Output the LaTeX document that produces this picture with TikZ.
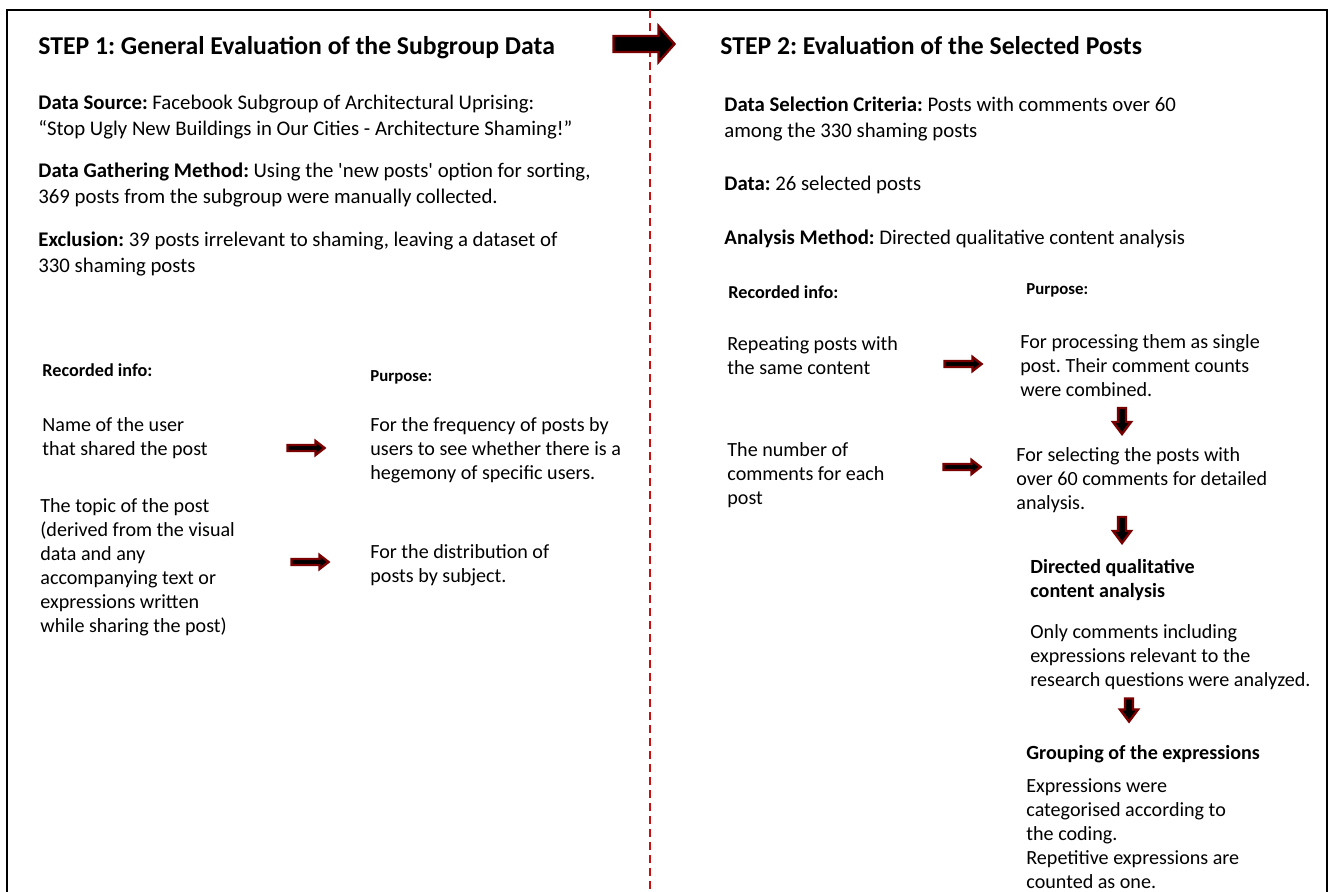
\documentclass[tikz,border=0pt]{standalone}
\usepackage{fontspec}
\setmainfont{Carlito}
\definecolor{arrowred}{RGB}{120,0,0}
\definecolor{dashred}{RGB}{200,16,16}
\tikzset{>=latex}
\tikzset{
  heading/.style={anchor=base west,inner sep=0pt,font=\fontsize{12.85}{15}\selectfont\bfseries},
  body/.style={anchor=north west,inner sep=0pt,align=left,font=\fontsize{10.05}{12}\selectfont,execute at begin node={\frenchspacing\rule{0pt}{8.5pt}}},
  bodyloose/.style={body,font=\fontsize{10.4}{13}\selectfont},
  subhead/.style={body,font=\fontsize{10.05}{12}\selectfont\bfseries},
  infohead/.style={body,font=\fontsize{9.1}{11}\selectfont\bfseries},
  every pic/.style={line width=1.2pt},
  % block arrow pointing right: length/shaft half/head half/head length
  pics/blockarrow/.style args={#1/#2/#3/#4}{code={
    \filldraw[draw=arrowred,fill=black,line join=miter]
      (-#1/2,-#2) -- (#1/2-#4,-#2) -- (#1/2-#4,-#3) -- (#1/2,0)
      -- (#1/2-#4,#3) -- (#1/2-#4,#2) -- (-#1/2,#2) -- cycle;
  }}
}

\begin{document}
\begin{tikzpicture}[x=0.5pt,y=-0.5pt]
  \useasboundingbox (0,0) rectangle (1332,892);

  % Frame and divider
  \draw[line width=1.2pt] (7,892) -- (7,10) -- (1327,10) -- (1327,892);
  \draw[dashred,line width=1pt,dash pattern=on 4pt off 2.5pt] (650,10) -- (650,892);
  \pic[line width=2pt] (next) at (644,44) {blockarrow=61/8/18/16};

  % Step 1
  \node[heading] (head1) at (38,55) {\frenchspacing STEP 1: General Evaluation of the Subgroup Data};
  \node[bodyloose] (src) at (38,95) {\textbf{Data Source:} Facebook Subgroup of Architectural Uprising:\\“Stop Ugly New Buildings in Our Cities - Architecture Shaming!”};
  \node[bodyloose] (gather) at (38,163) {\textbf{Data Gathering Method:} Using the \textquotesingle new posts\textquotesingle{} option for sorting,\\369 posts from the subgroup were manually collected.};
  \node[bodyloose] (excl) at (38,232) {\textbf{Exclusion:} 39 posts irrelevant to shaming, leaving a dataset of\\330 shaming posts};

  \node[infohead] (rec1) at (42,359) {Recorded info:};
  \node[infohead,font=\fontsize{8.4}{10}\selectfont\bfseries] (purp1) at (370,364) {Purpose:};
  \node[body] (user) at (42,417) {Name of the user\\that shared the post};
  \node[body] (userpurp) at (370,417) {For the frequency of posts by\\users to see whether there is a\\hegemony of specific users.};
  \node[body] (topic) at (40,498) {The topic of the post\\(derived from the visual\\data and any\\accompanying text or\\expressions written\\while sharing the post)};
  \node[body] (topicpurp) at (370,544) {For the distribution of\\posts by subject.};
  \pic (a1) at (306,448) {blockarrow=37/3/7/9};
  \pic (a2) at (310,562) {blockarrow=37/3/7/9};

  % Step 2
  \node[heading] (head2) at (720,55) {\frenchspacing STEP 2: Evaluation of the Selected Posts};
  \node[bodyloose] (crit) at (724,96) {\textbf{Data Selection Criteria:} Posts with comments over 60\\among the 330 shaming posts};
  \node[bodyloose] (data2) at (724,173) {\textbf{Data:} 26 selected posts};
  \node[bodyloose] (method2) at (724,227) {\textbf{Analysis Method:} Directed qualitative content analysis};

  \node[infohead] (rec2) at (728,281) {Recorded info:};
  \node[infohead,font=\fontsize{8.4}{10}\selectfont\bfseries] (purp2) at (1026,277) {Purpose:};
  \node[body] (repeat) at (727,336) {Repeating posts with\\the same content};
  \node[body] (repeatpurp) at (1020,334) {For processing them as single\\post. Their comment counts\\were combined.};
  \node[body] (count) at (727,442) {The number of\\comments for each\\post};
  \node[body] (countpurp) at (1016,447) {For selecting the posts with\\over 60 comments for detailed\\analysis.};
  \pic (a3) at (963,364) {blockarrow=37/3/7/9};
  \pic (a4) at (962,467) {blockarrow=37/3/7/9};

  \node[subhead] (dqca) at (1030,559) {Directed qualitative\\content analysis};
  \node[body] (dqcatext) at (1030,624) {Only comments including\\expressions relevant to the\\research questions were analyzed.};
  \node[subhead] (group) at (1026,742) {Grouping of the expressions};
  \node[body] (grouptext) at (1026,778) {Expressions were\\categorised according to\\the coding.\\Repetitive expressions are\\counted as one.};
  \pic[rotate=-90] (d1) at (1122,421) {blockarrow=26/4/9/12};
  \pic[rotate=-90] (d2) at (1122,530) {blockarrow=26/4/9/12};
  \pic[rotate=-90] (d3) at (1129,710) {blockarrow=23/4/9/12};
\end{tikzpicture}
\end{document}
